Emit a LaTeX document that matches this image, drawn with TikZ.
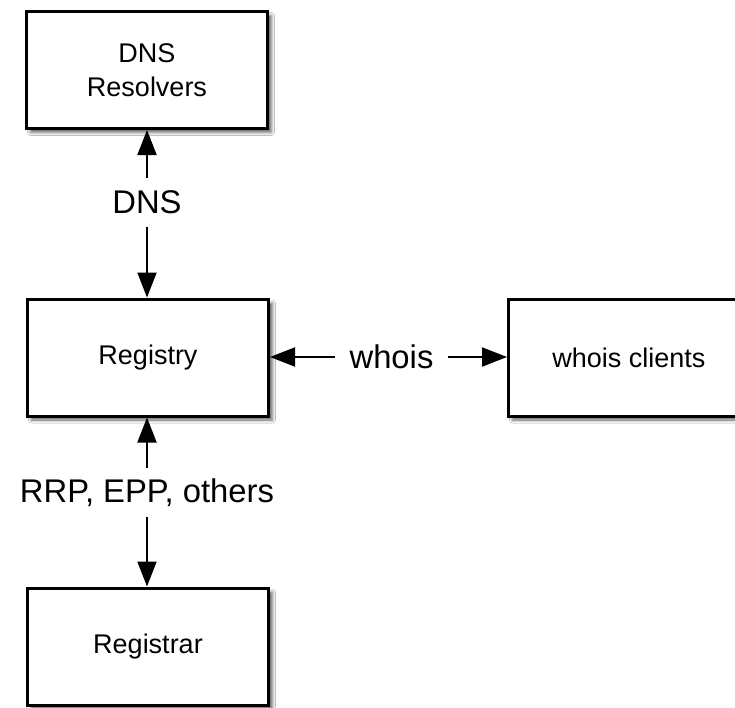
\documentclass[tikz,border=0pt]{standalone}
\usepackage{fontspec}
\setmainfont{Liberation Sans}
\usetikzlibrary{arrows.meta,shadows.blur}
\begin{document}
\begin{tikzpicture}[x=1pt,y=1pt,
 box/.style={draw, line width=3pt, minimum width=241pt, minimum height=117pt, fill=white, align=center,
   font=\fontsize{27}{34}\selectfont,
   blur shadow={shadow xshift=4pt, shadow yshift=-4pt, shadow blur radius=3pt, shadow opacity=60}},
 lab/.style={inner sep=0pt, font=\fontsize{32.8}{36}\selectfont},
 arr/.style={line width=2pt, -{Triangle[length=25pt,width=19pt]}}]
\useasboundingbox (0,0) rectangle (735,-707);
\fill[white] (0,0) rectangle (735,-707);
\clip (0,0) rectangle (735,-707);
\node[box] (res) at (147,-70) {DNS\\Resolvers};
\node[box] (reg) at (148,-357.5) {Registry};
\node[box] (cli) at (629,-357.5) {whois clients};
\node[box] (rar) at (148,-646.5) {Registrar};
\node[lab, minimum height=49pt] (dns) at (147,-202.5) {DNS};
\node[lab, minimum width=113pt] (who) at (391.5,-357) {whois};
\node[lab, minimum height=49pt] (rrp) at (147,-492.5) {RRP, EPP, others};
\draw[arr] (dns.north) -- (dns.north |- res.south);
\draw[arr] (dns.south) -- (dns.south |- reg.north);
\draw[arr] (who.west) -- (who.west -| reg.east);
\draw[arr] (who.east) -- (who.east -| cli.west);
\draw[arr] (rrp.north) -- (rrp.north |- reg.south);
\draw[arr] (rrp.south) -- (rrp.south |- rar.north);
\end{tikzpicture}
\end{document}
